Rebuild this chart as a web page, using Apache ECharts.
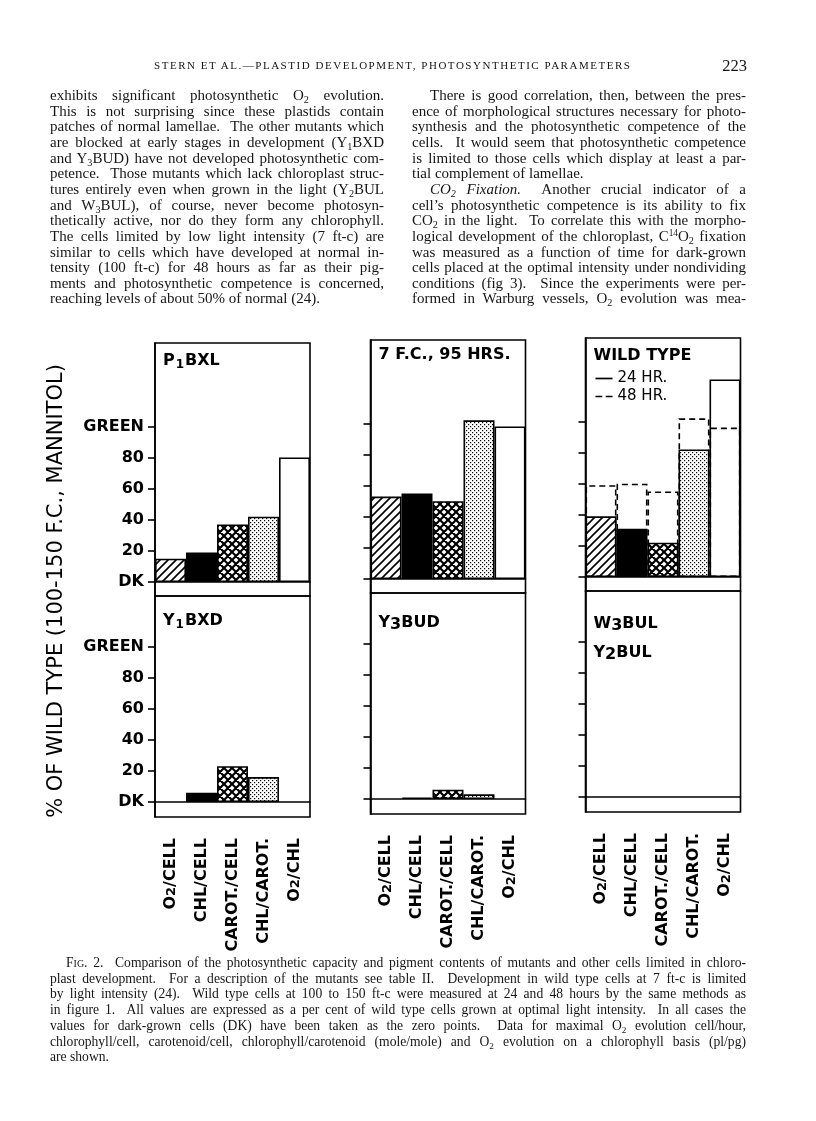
<!DOCTYPE html>
<html><head><meta charset="utf-8">
<script src="https://cdn.jsdelivr.net/npm/echarts@6/dist/echarts.min.js"></script>
<style>
html,body{margin:0;padding:0;background:#fff;}
#page{position:relative;width:816px;height:1121px;overflow:hidden;background:#fff;}
#chart{position:absolute;left:0;top:0;width:816px;height:1121px;}
.ln{position:absolute;font-family:"Liberation Serif",serif;color:#151515;text-align:justify;text-align-last:justify;}
.body{font-size:15px;line-height:16px;height:16px;}
.cap{font-size:13.6px;line-height:15px;height:15px;}
.last{text-align-last:left;}
sub{font-size:68%;line-height:0;vertical-align:-0.28em;}
sup{font-size:62%;line-height:0;vertical-align:0.55em;}
.sc{font-variant:small-caps;}
</style>
</head><body>
<div id="page"><div id="chart"></div></div>
<script>
// ---------- DATA ----------
const categories = ['O2/CELL', 'CHL/CELL', 'CAROT./CELL', 'CHL/CAROT.', 'O2/CHL'];
const yTicks = [0, 20, 40, 60, 80, 100];
const yTickLabels = ['DK', '20', '40', '60', '80', 'GREEN'];
const p1bxl  = [15, 19, 37, 42, 80];
const fc7    = [53, 55, 50, 102, 98];
const wild24 = [39, 31, 22, 82, 127];
const wild48 = [59, 60, 55, 102, 96];
const y1bxd  = [0, 6, 23, 16, 0];
const y3bud  = [0, 1, 6, 3, 0];
const w3bul  = [0, 0, 0, 0, 0];
const y2bul  = [0, 0, 0, 0, 0];

// ---------- TEXT ----------
const headerText = 'STERN ET AL.\u2014PLASTID DEVELOPMENT, PHOTOSYNTHETIC PARAMETERS';
const pageNo = '223';
const leftLines = [
 ['exhibits significant photosynthetic O<sub>2</sub> evolution.',0,0],
 ['This is not surprising since these plastids contain',0,0],
 ['patches of normal lamellae.&nbsp; The other mutants which',0,0],
 ['are blocked at early stages in development (Y<sub>1</sub>BXD',0,0],
 ['and Y<sub>3</sub>BUD) have not developed photosynthetic com-',0,0],
 ['petence.&nbsp; Those mutants which lack chloroplast struc-',0,0],
 ['tures entirely even when grown in the light (Y<sub>2</sub>BUL',0,0],
 ['and W<sub>3</sub>BUL), of course, never become photosyn-',0,0],
 ['thetically active, nor do they form any chlorophyll.',0,0],
 ['The cells limited by low light intensity (7 ft-c) are',0,0],
 ['similar to cells which have developed at normal in-',0,0],
 ['tensity (100 ft-c) for 48 hours as far as their pig-',0,0],
 ['ments and photosynthetic competence is concerned,',0,0],
 ['reaching levels of about 50% of normal (24).',0,1]
];
const rightLines = [
 ['There is good correlation, then, between the pres-',18,0],
 ['ence of morphological structures necessary for photo-',0,0],
 ['synthesis and the photosynthetic competence of the',0,0],
 ['cells.&nbsp; It would seem that photosynthetic competence',0,0],
 ['is limited to those cells which display at least a par-',0,0],
 ['tial complement of lamellae.',0,1],
 ['<i>CO<sub>2</sub> Fixation.</i>&nbsp; Another crucial indicator of a',18,0],
 ['cell\u2019s photosynthetic competence is its ability to fix',0,0],
 ['CO<sub>2</sub> in the light.&nbsp; To correlate this with the morpho-',0,0],
 ['logical development of the chloroplast, C<sup>14</sup>O<sub>2</sub> fixation',0,0],
 ['was measured as a function of time for dark-grown',0,0],
 ['cells placed at the optimal intensity under nondividing',0,0],
 ['conditions (fig 3).&nbsp; Since the experiments were per-',0,0],
 ['formed in Warburg vessels, O<sub>2</sub> evolution was mea-',0,0]
];
const captionLines = [
 ['<span class="sc">Fig.</span> 2.&nbsp; Comparison of the photosynthetic capacity and pigment contents of mutants and other cells limited in chloro-',16,0],
 ['plast development.&nbsp; For a description of the mutants see table II.&nbsp; Development in wild type cells at 7 ft-c is limited',0,0],
 ['by light intensity (24).&nbsp; Wild type cells at 100 to 150 ft-c were measured at 24 and 48 hours by the same methods as',0,0],
 ['in figure 1.&nbsp; All values are expressed as a per cent of wild type cells grown at optimal light intensity.&nbsp; In all cases the',0,0],
 ['values for dark-grown cells (DK) have been taken as the zero points.&nbsp; Data for maximal O<sub>2</sub> evolution cell/hour,',0,0],
 ['chlorophyll/cell, carotenoid/cell, chlorophyll/carotenoid (mole/mole) and O<sub>2</sub> evolution on a chlorophyll basis (pl/pg)',0,0],
 ['are shown.',0,1]
];

// ---------- PAGE TEXT ----------
const page = document.getElementById('page');
function addLine(html, x, y, w, cls, indent, last){
  const d = document.createElement('div');
  d.className = 'ln ' + cls + (last ? ' last' : '');
  d.style.left = (x + indent) + 'px';
  d.style.top = y + 'px';
  d.style.width = (w - indent) + 'px';
  d.innerHTML = html;
  page.appendChild(d);
  let ls = 0;
  while (d.scrollHeight > parseFloat(getComputedStyle(d).lineHeight) + 4 && ls > -2) {
    ls -= 0.05; d.style.letterSpacing = ls + 'px';
  }
  return d;
}
const COL_L = 50, COL_R = 412, COL_W = 334, LINE0 = 87, LSTEP = 15.65;
leftLines.forEach((l, i) => addLine(l[0], COL_L, LINE0 + i * LSTEP, COL_W, 'body', l[1], l[2]));
rightLines.forEach((l, i) => addLine(l[0], COL_R, LINE0 + i * LSTEP, COL_W, 'body', l[1], l[2]));
captionLines.forEach((l, i) => addLine(l[0], 50, 955 + i * 15.7, 696, 'cap', l[1], l[2]));

const hd = document.createElement('div');
hd.style.cssText = 'position:absolute;left:154px;top:59px;font-family:"Liberation Serif",serif;font-size:11px;color:#151515;white-space:nowrap;';
hd.textContent = headerText; page.appendChild(hd);
(function(){ const target = 476; const w = hd.getBoundingClientRect().width; const n = headerText.length - 1; hd.style.letterSpacing = ((target - w) / n) + 'px'; })();
const pn = document.createElement('div');
pn.style.cssText = 'position:absolute;right:' + (816 - 747) + 'px;top:56px;font-family:"Liberation Serif",serif;font-size:16.5px;color:#151515;';
pn.textContent = pageNo; page.appendChild(pn);

// ---------- PATTERNS ----------
function makePattern(kind){
  const c = document.createElement('canvas');
  const ctx = c.getContext('2d');
  if (kind === 'hatch') {
    c.width = c.height = 8;
    ctx.fillStyle = '#fff'; ctx.fillRect(0, 0, 8, 8);
    ctx.strokeStyle = '#000'; ctx.lineWidth = 1.6; ctx.beginPath();
    ctx.moveTo(-2, 10); ctx.lineTo(10, -2);
    ctx.moveTo(-2, 2); ctx.lineTo(2, -2);
    ctx.moveTo(6, 10); ctx.lineTo(10, 6);
    ctx.stroke();
  } else if (kind === 'cross') {
    c.width = c.height = 8;
    ctx.fillStyle = '#fff'; ctx.fillRect(0, 0, 8, 8);
    ctx.strokeStyle = '#000'; ctx.lineWidth = 2.2; ctx.beginPath();
    ctx.moveTo(-2, 10); ctx.lineTo(10, -2);
    ctx.moveTo(-2, 2); ctx.lineTo(2, -2);
    ctx.moveTo(6, 10); ctx.lineTo(10, 6);
    ctx.moveTo(-2, -2); ctx.lineTo(10, 10);
    ctx.moveTo(6, -2); ctx.lineTo(10, 2);
    ctx.moveTo(-2, 6); ctx.lineTo(2, 10);
    ctx.stroke();
  } else if (kind === 'dots') {
    c.width = c.height = 4;
    ctx.fillStyle = '#fff'; ctx.fillRect(0, 0, 4, 4);
    ctx.fillStyle = '#000';
    ctx.fillRect(0, 0, 1.2, 1.2); ctx.fillRect(2, 2, 1.2, 1.2);
  }
  return { image: c, repeat: 'repeat' };
}
const barFills = [makePattern('hatch'), '#000', makePattern('cross'), makePattern('dots'), '#fff'];

// ---------- LAYOUT ----------
const FONT = '"DejaVu Sans", sans-serif';
const colX = [155, 370.5, 585.5];
const colDY = [0, -3, -5];
const PW = 155;
const rowsL = [
  { top: 343, h: 253, min: -9, max: 153.6 },
  { top: 596, h: 221, min: -9.64, max: 132.4 }
];
const panels = [
  { row: 0, col: 0, series: [{ name: 'P1BXL', data: p1bxl }] },
  { row: 0, col: 1, series: [{ name: '7 F.C., 95 HRS.', data: fc7 }] },
  { row: 0, col: 2, series: [{ name: '24 HR.', data: wild24 }, { name: '48 HR.', data: wild48, dashed: true }] },
  { row: 1, col: 0, series: [{ name: 'Y1BXD', data: y1bxd }] },
  { row: 1, col: 1, series: [{ name: 'Y3BUD', data: y3bud }] },
  { row: 1, col: 2, series: [{ name: 'W3BUL', data: w3bul }, { name: 'Y2BUL', data: y2bul }] }
];

const catRich = {
  b: { fontFamily: FONT, fontSize: 16, fontWeight: 'bold', color: '#000', lineHeight: 16, verticalAlign: 'top' },
  s: { fontFamily: FONT, fontSize: 13, fontWeight: 'bold', color: '#000', lineHeight: 16, padding: [6, 0, 0, 0], verticalAlign: 'bottom' }
};
function catFormatter(v){
  if (v.indexOf('O2') === 0) return '{b|O}{s|2}{b|' + v.slice(2) + '}';
  return '{b|' + v + '}';
}

const grid = [], xAxis = [], yAxis = [], series = [];
panels.forEach((p, i) => {
  const r = rowsL[p.row];
  grid.push({ left: colX[p.col], top: r.top + colDY[p.col], width: PW, height: r.h,
    show: true, borderColor: '#000', borderWidth: 1.6, backgroundColor: 'transparent' });
  xAxis.push({ type: 'category', gridIndex: i, data: categories,
    axisLine: { show: true, onZero: true, lineStyle: { color: '#000', width: 1.6 } },
    axisTick: { show: false },
    axisLabel: { show: p.row === 1, rotate: 90, margin: 21, interval: 0, formatter: catFormatter, rich: catRich,
      fontFamily: FONT, fontSize: 16, fontWeight: 'bold', color: '#000' },
    splitLine: { show: false } });
  yAxis.push({ type: 'value', gridIndex: i, min: r.min, max: r.max,
    axisLine: { show: true, lineStyle: { color: '#000', width: 1.6 } },
    axisTick: { show: true, inside: false, length: 7, customValues: yTicks, lineStyle: { color: '#000', width: 1.6 } },
    axisLabel: { show: p.col === 0, customValues: yTicks, margin: 11,
      formatter: v => { const k = yTicks.indexOf(Math.round(v)); return k >= 0 ? yTickLabels[k] : ''; },
      fontFamily: FONT, fontSize: 16, fontWeight: 'bold', color: '#000' },
    splitLine: { show: false } });
  p.series.forEach(s => {
    series.push({
      type: 'bar', name: s.name, xAxisIndex: i, yAxisIndex: i,
      barWidth: '100%', barGap: '-100%', barCategoryGap: '0%',
      z: s.dashed ? 5 : 2,
      data: s.data.map((v, j) => ({
        value: v,
        itemStyle: s.dashed
          ? { color: 'rgba(0,0,0,0)', borderColor: '#000', borderWidth: 1.6, borderType: [6, 4] }
          : { color: barFills[j], borderColor: '#000', borderWidth: v === 0 ? 0 : 1.6 }
      })),
      emphasis: { disabled: true }
    });
  });
});

// panel titles
const titleRich = {
  a: { fontFamily: FONT, fontSize: 16, fontWeight: 'bold', fill: '#000', lineHeight: 18, verticalAlign: 'top' },
  t: { fontFamily: FONT, fontSize: 12, fontWeight: 'bold', fill: '#000', lineHeight: 18, padding: [6, 1, 0, 1], verticalAlign: 'bottom' },
  d: { fontFamily: FONT, fontSize: 16, fontWeight: 'bold', fill: '#000', lineHeight: 18, padding: [7, 0, 0, 0], verticalAlign: 'bottom' }
};
function ptitle(text, col, y){
  return { type: 'text', left: colX[col] + 8, top: y + colDY[col], z: 10,
    style: { text: text, rich: titleRich, fontFamily: FONT, fontSize: 16, fontWeight: 'bold', fill: '#000' } };
}
const graphic = [
  ptitle('{a|P}{t|1}{a|BXL}', 0, 353),
  ptitle('{a|7 F.C., 95 HRS.}', 1, 350),
  ptitle('{a|WILD TYPE}', 2, 353),
  ptitle('{a|Y}{t|1}{a|BXD}', 0, 613),
  ptitle('{a|Y}{d|3}{a|BUD}', 1, 613),
  ptitle('{a|W}{d|3}{a|BUL}', 2, 616),
  ptitle('{a|Y}{d|2}{a|BUL}', 2, 645),
  { type: 'text', x: 57, y: 591, rotation: Math.PI / 2, z: 10,
    style: { text: '% OF WILD TYPE (100-150 F.C., MANNITOL)', fontFamily: FONT, fontSize: 21,
      fill: '#000', align: 'center', verticalAlign: 'middle' } }
];

const chart = echarts.init(document.getElementById('chart'), null, { renderer: 'canvas' });
chart.setOption({
  animation: false,
  backgroundColor: 'transparent',
  grid, xAxis, yAxis, series, graphic,
  legend: {
    left: colX[2] + 5, top: 371 + colDY[2], orient: 'vertical', itemGap: 3,
    itemWidth: 17, itemHeight: 2, selectedMode: false,
    textStyle: { fontFamily: FONT, fontSize: 15, color: '#000' },
    data: [
      { name: '24 HR.', icon: 'path://M0,0h10v1h-10z', itemStyle: { color: '#000', borderWidth: 0 } },
      { name: '48 HR.', icon: 'path://M0,0h4v1h-4z M6,0h4v1h-4z', itemStyle: { color: '#000', borderWidth: 0 } }
    ]
  }
});
</script>
</body></html>
